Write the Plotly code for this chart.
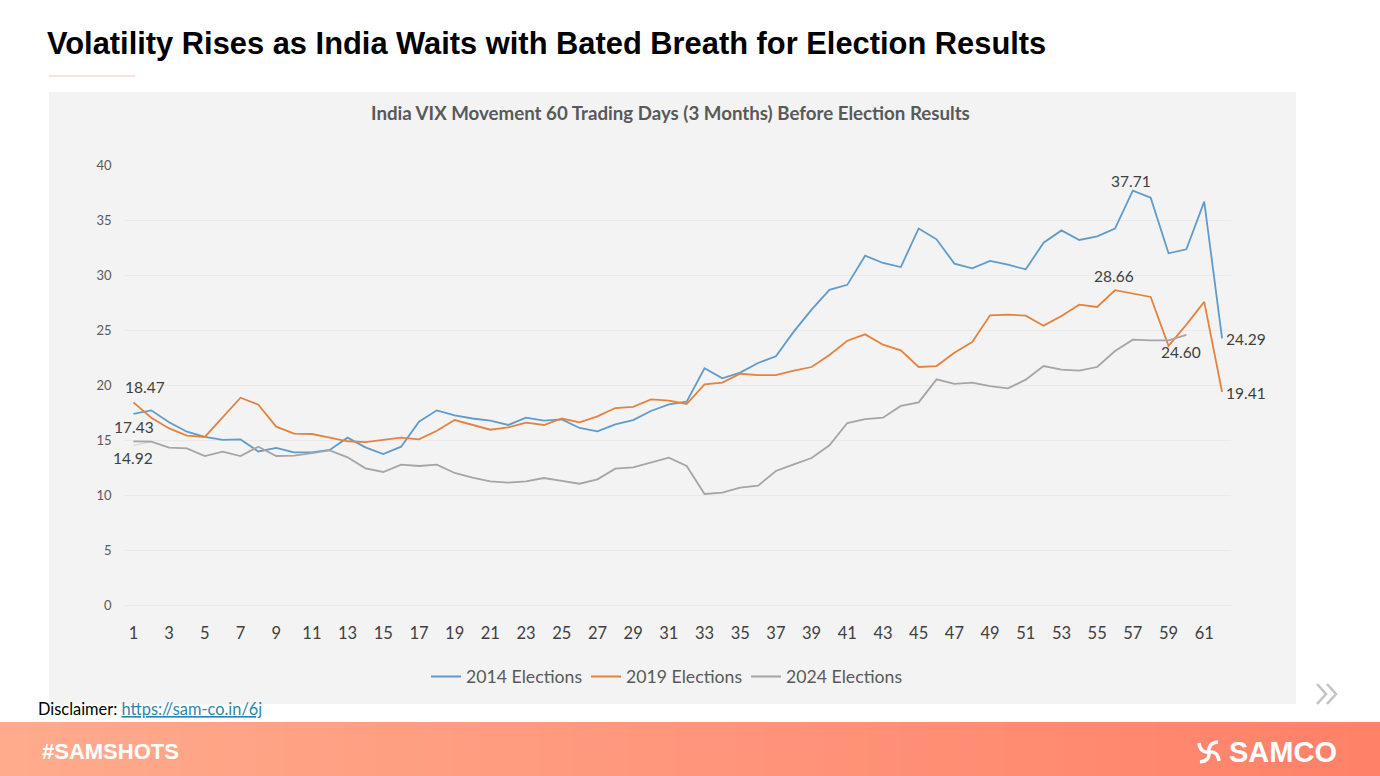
import plotly.graph_objects as go

W, H = 1380, 776

days = list(range(1, 63))
tick_days = list(range(1, 62, 2))
y_ticks = [0, 5, 10, 15, 20, 25, 30, 35, 40]

elections_2014 = [17.43, 17.74, 16.65, 15.80, 15.32, 15.05, 15.10, 14.00, 14.32, 13.92,
                  13.92, 14.14, 15.26, 14.38, 13.77, 14.44, 16.71, 17.74, 17.29, 17.00,
                  16.80, 16.41, 17.07, 16.80, 16.92, 16.14, 15.83, 16.47, 16.86, 17.68,
                  18.29, 18.53, 21.56, 20.65, 21.17, 22.05, 22.65, 24.90, 26.90, 28.70,
                  29.15, 31.80, 31.14, 30.77, 34.28, 33.29, 31.08, 30.65, 31.32, 30.98,
                  30.56, 32.98, 34.10, 33.23, 33.56, 34.26, 37.71, 37.08, 32.02, 32.38,
                  36.71, 24.29]

elections_2019 = [18.47, 17.07, 16.10, 15.44, 15.32, 17.10, 18.89, 18.26, 16.26, 15.62,
                  15.59, 15.26, 14.93, 14.86, 15.05, 15.26, 15.11, 15.89, 16.86, 16.44,
                  15.98, 16.20, 16.62, 16.41, 17.00, 16.65, 17.20, 17.95, 18.05, 18.74,
                  18.62, 18.32, 20.11, 20.26, 21.07, 20.95, 20.95, 21.35, 21.68, 22.77,
                  24.07, 24.65, 23.71, 23.20, 21.68, 21.77, 22.98, 23.95, 26.38, 26.44,
                  26.35, 25.44, 26.32, 27.35, 27.14, 28.66, 28.35, 28.05, 23.60, 25.53,
                  27.60, 19.41]

elections_2024 = [14.92, 14.89, 14.35, 14.29, 13.59, 13.98, 13.59, 14.44, 13.59, 13.62,
                  13.86, 14.10, 13.47, 12.47, 12.14, 12.80, 12.68, 12.80, 12.05, 11.62,
                  11.29, 11.17, 11.29, 11.59, 11.32, 11.07, 11.47, 12.44, 12.56, 13.02,
                  13.44, 12.68, 10.14, 10.26, 10.71, 10.89, 12.23, 12.83, 13.41, 14.56,
                  16.59, 16.95, 17.07, 18.14, 18.47, 20.56, 20.14, 20.26, 19.95, 19.74,
                  20.53, 21.77, 21.44, 21.35, 21.68, 23.14, 24.17, 24.11, 24.11, 24.60]

series_names = ["2014 Elections", "2019 Elections", "2024 Elections"]
series_colors = ["#5F9BCB", "#E4833F", "#A5A5A5"]
series_values = [elections_2014, elections_2019, elections_2024]

# series index, day, x shift px, y shift px (up)
point_labels = [
    (1, 1, 11.5, 15), (0, 1, 0.5, -13.3), (2, 1, 0, -16.6),
    (0, 57, -2, 9.7), (1, 56, -1, 14), (2, 60, -5.5, -17),
    (0, 62, 24, -1), (1, 62, 24, -1),
]

TITLE = "Volatility Rises as India Waits with Bated Breath for Election Results"
CHART_TITLE = "India VIX Movement 60 Trading Days (3 Months) Before Election Results"
BODY = "Lato"


def px(x):
    return x / W


def py(y):
    return 1 - y / H


def rect(x0, y0, x1, y1, color, layer="below"):
    return dict(type="rect", xref="paper", yref="paper", x0=px(x0), x1=px(x1),
                y0=py(y1), y1=py(y0), fillcolor=color, line_width=0, layer=layer)


def path(points, color, width, layer="above"):
    d = ""
    for cmd, *xy in points:
        d += cmd + " ".join(f"{px(a):.5f},{py(b):.5f}" for a, b in xy) + " "
    return dict(type="path", xref="paper", yref="paper", path=d.strip(),
                line=dict(color=color, width=width), fillcolor="rgba(0,0,0,0)", layer=layer)


shapes = [rect(49, 92, 1296, 704, "#F3F3F3"),
          rect(49, 75.5, 135, 76.5, "#F4C9B8")]

# footer band, left-to-right gradient
band_l, band_r = (255, 171, 140), (255, 129, 104)
steps = 92
for i in range(steps):
    t = i / (steps - 1)
    c = tuple(round(a + (b - a) * t) for a, b in zip(band_l, band_r))
    shapes.append(rect(i * W / steps, 722, (i + 1) * W / steps + 0.5, H, f"rgb{c}"))

# chevrons
shapes.append(path([("M", (1317, 684)), ("L", (1326, 694)), ("L", (1317, 704))], "#C4C4C4", 2.6))
shapes.append(path([("M", (1327, 684)), ("L", (1336, 694)), ("L", (1327, 704))], "#C4C4C4", 2.6))

# logo mark: four curved arms
cx, cy = 1209, 752
for (a, b, c) in [((cx, cy), (cx - 1, cy - 9), (cx + 9, cy - 10)),
                  ((cx, cy), (cx + 9, cy - 1), (cx + 10, cy + 9)),
                  ((cx, cy), (cx + 1, cy + 9), (cx - 9, cy + 10)),
                  ((cx, cy), (cx - 9, cy + 1), (cx - 10, cy - 9))]:
    shapes.append(path([("M", a), ("Q", b, c)], "#FFFFFF", 3.4))

# faint leader of the 14.92 label
shapes.append(dict(type="line", xref="x", yref="y", x0=1, x1=2, y0=14.55, y1=14.89,
                   line=dict(color="#C8C8C8", width=0.8), layer="below"))

fig = go.Figure()
for name, color, values in zip(series_names, series_colors, series_values):
    fig.add_trace(go.Scatter(x=days[:len(values)], y=values, mode="lines", name=name,
                             line=dict(color=color, width=1.8)))

annotations = []
for s, day, dx, dy in point_labels:
    v = series_values[s][day - 1]
    annotations.append(dict(x=day, y=v, xref="x", yref="y", text=f"{v:.2f}", showarrow=False,
                            xshift=dx, yshift=dy, font=dict(family=BODY, size=15.5, color="#404040")))


def page_text(text, x, y, size, family, color, anchor="left"):
    return dict(x=px(x), y=py(y), xref="paper", yref="paper", text=text, showarrow=False,
                xanchor=anchor, yanchor="middle",
                font=dict(family=family, size=size, color=color))


annotations += [
    page_text(f"<b>{TITLE}</b>", 45, 43, 30.85, "Liberation Sans", "#000000"),
    page_text(f"<b>{CHART_TITLE}</b>", 670, 113, 18.7, BODY, "#595959", "center"),
    page_text('Disclaimer: <a href="https://sam-co.in/6j" style="color:#2E86AB;text-decoration:underline">'
              'https://sam-co.in/6j</a>', 36, 708.5, 16.4, BODY, "#000000"),
    page_text("<b>#SAMSHOTS</b>", 40, 751, 22, "Liberation Sans", "#FFFFFF"),
    page_text("<b>SAMCO</b>", 1227, 752, 29, "Liberation Sans", "#FFFFFF"),
]

fig.update_layout(
    width=W, height=H, margin=dict(l=0, r=0, t=0, b=0, autoexpand=False), autosize=False,
    paper_bgcolor="#FFFFFF", plot_bgcolor="rgba(0,0,0,0)",
    shapes=shapes, annotations=annotations,
    legend=dict(orientation="h", x=px(426), y=py(677), xanchor="left", yanchor="middle",
                font=dict(family=BODY, size=17.7, color="#595959"),
                entrywidth=115, entrywidthmode="pixels",
                bgcolor="rgba(0,0,0,0)"),
    xaxis=dict(domain=[px(124.5), px(1231)], range=[0.5, 62.5], tickmode="array",
               tickvals=tick_days, ticktext=[str(d) for d in tick_days], showgrid=False,
               zeroline=False, showline=False, ticks="", ticklabelstandoff=16,
               tickfont=dict(family=BODY, size=16.5, color="#404040"), anchor="y"),
    yaxis=dict(domain=[py(605.5), py(165.5)], range=[0, 40], tickvals=y_ticks, showgrid=True,
               gridcolor="#E9E9E9", gridwidth=1, zeroline=True, zerolinecolor="#E9E9E9",
               zerolinewidth=1, showline=False, ticks="", anchor="x", ticklabelstandoff=12,
               tickfont=dict(family=BODY, size=13, color="#595959")),
)

fig.write_html("out.html", config=dict(displayModeBar=False),
               post_script="document.body.style.margin='0';document.body.style.overflow='hidden';")
